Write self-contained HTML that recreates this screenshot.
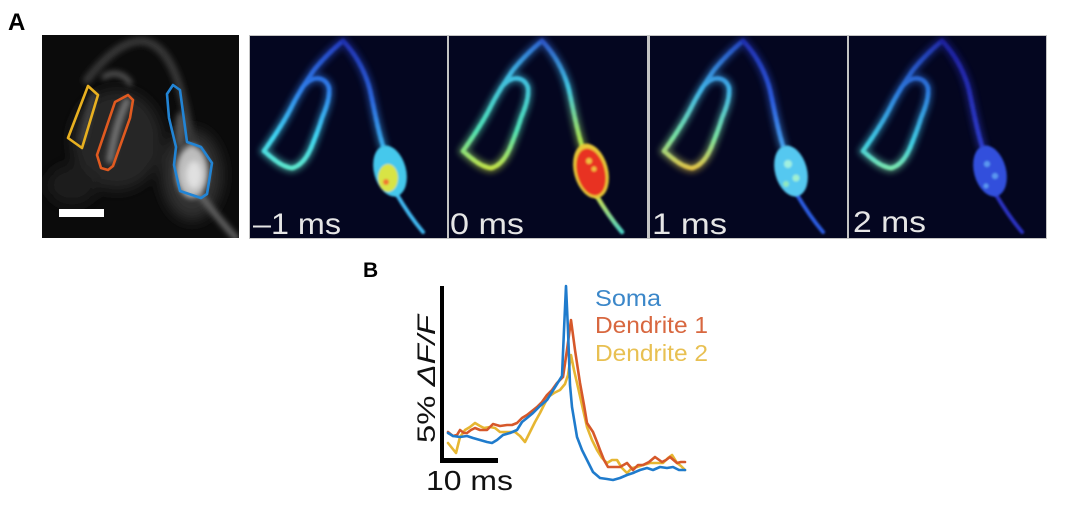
<!DOCTYPE html>
<html><head><meta charset="utf-8"><style>
html,body{margin:0;padding:0;background:#fff;}
svg{display:block;}
</style></head><body>
<svg width="1069" height="517" viewBox="0 0 1069 517" xmlns="http://www.w3.org/2000/svg" font-family="Liberation Sans, Arial, sans-serif">
<defs>
<filter id="b1" x="-20%" y="-20%" width="140%" height="140%"><feGaussianBlur stdDeviation="1.1"/></filter>
<filter id="b3" x="-50%" y="-50%" width="200%" height="200%"><feGaussianBlur stdDeviation="3"/></filter>
<filter id="b6" x="-50%" y="-50%" width="200%" height="200%"><feGaussianBlur stdDeviation="7"/></filter>
<linearGradient id="gL1" gradientUnits="userSpaceOnUse" x1="0" y1="0" x2="0" y2="135"><stop offset="0" stop-color="#2234b8"/><stop offset="0.4" stop-color="#2f80ea"/><stop offset="0.75" stop-color="#40d4f0"/><stop offset="1" stop-color="#60e8c8"/></linearGradient>
<linearGradient id="gR1" gradientUnits="userSpaceOnUse" x1="0" y1="0" x2="0" y2="130"><stop offset="0" stop-color="#1e2aa8"/><stop offset="0.5" stop-color="#2c68dc"/><stop offset="1" stop-color="#40ccf0"/></linearGradient>
<linearGradient id="gL2" gradientUnits="userSpaceOnUse" x1="0" y1="0" x2="0" y2="135"><stop offset="0" stop-color="#2a58cc"/><stop offset="0.3" stop-color="#40bce0"/><stop offset="0.7" stop-color="#50e0b4"/><stop offset="1" stop-color="#c8e040"/></linearGradient>
<linearGradient id="gR2" gradientUnits="userSpaceOnUse" x1="0" y1="0" x2="0" y2="130"><stop offset="0" stop-color="#2a48c0"/><stop offset="0.4" stop-color="#40c4e0"/><stop offset="0.8" stop-color="#a8e050"/><stop offset="1" stop-color="#e8e040"/></linearGradient>
<linearGradient id="gL3" gradientUnits="userSpaceOnUse" x1="0" y1="0" x2="0" y2="135"><stop offset="0" stop-color="#2038b8"/><stop offset="0.4" stop-color="#40b4e8"/><stop offset="0.75" stop-color="#78e0a0"/><stop offset="1" stop-color="#e8c040"/></linearGradient>
<linearGradient id="gR3" gradientUnits="userSpaceOnUse" x1="0" y1="0" x2="0" y2="130"><stop offset="0" stop-color="#1e2aa8"/><stop offset="0.5" stop-color="#2c5cdc"/><stop offset="1" stop-color="#50bcf0"/></linearGradient>
<linearGradient id="gL4" gradientUnits="userSpaceOnUse" x1="0" y1="0" x2="0" y2="135"><stop offset="0" stop-color="#1e24a0"/><stop offset="0.4" stop-color="#2c78dc"/><stop offset="0.8" stop-color="#40cce0"/><stop offset="1" stop-color="#80e8a8"/></linearGradient>
<linearGradient id="gR4" gradientUnits="userSpaceOnUse" x1="0" y1="0" x2="0" y2="130"><stop offset="0" stop-color="#1c1e98"/><stop offset="1" stop-color="#3040d0"/></linearGradient>
<linearGradient id="gT2" gradientUnits="userSpaceOnUse" x1="0" y1="155" x2="0" y2="200"><stop offset="0" stop-color="#e0e040"/><stop offset="1" stop-color="#40d0d0"/></linearGradient>
</defs>

<rect width="1069" height="517" fill="#fff"/>

<!-- Labels -->
<text x="8" y="30" font-size="24" font-weight="bold" fill="#000">A</text>
<text x="363" y="277" font-size="21" font-weight="bold" fill="#000">B</text>

<!-- Grey panel -->
<svg x="42" y="35" width="197" height="203" viewBox="0 0 197 203">
<rect width="197" height="203" fill="#0b0b0b"/>
<g filter="url(#b6)">
<ellipse cx="75" cy="105" rx="45" ry="50" fill="#262626"/>
<ellipse cx="30" cy="150" rx="25" ry="20" fill="#1e1e1e"/>
<ellipse cx="150" cy="140" rx="30" ry="45" fill="#333"/>
</g>
<g filter="url(#b3)" fill="none" stroke-linecap="round">
<path d="M45,45 C60,25 80,6 100,6 C120,8 132,30 140,60 C146,82 148,100 150,115" stroke="#383838" stroke-width="8"/>
<path d="M62,42 C70,36 82,38 88,48" stroke="#5a5a5a" stroke-width="5"/>
<path d="M68,125 C72,100 78,80 85,66" stroke="#777" stroke-width="7"/>
<path d="M40,105 C45,85 48,70 52,60" stroke="#444" stroke-width="6"/>
<path d="M160,162 C172,178 182,190 194,203" stroke="#6a6a6a" stroke-width="6"/>
<ellipse cx="150" cy="137" rx="16" ry="26" fill="#bdbdbd"/>
<ellipse cx="138" cy="95" rx="5" ry="18" fill="#555"/>
</g>
<ellipse cx="152" cy="140" rx="8" ry="14" fill="#e0e0e0" filter="url(#b3)"/>
<g fill="none" stroke-width="2.6" stroke-linejoin="round">
<polygon points="26,103 46,51 56,60 40,113" stroke="#e8b020"/>
<polygon points="55,120 73,67 86,60 91,65 88,83 71,131 66,135 59,133" stroke="#e05a20"/>
<polygon points="125,59 131,50 138,55 145,107 159,112 170,128 165,159 159,163 138,156 132,130 134,112 127,83" stroke="#2284d4"/>
</g>
<rect x="17" y="174" width="45" height="8" fill="#fff"/>
</svg>

<!-- colour panel strip background -->
<rect x="249" y="35" width="798" height="204" fill="#c4c4c4"/>

<!-- Panel -1 ms -->
<svg x="250" y="36" width="197" height="202" viewBox="0 0 197 202">
<rect width="197" height="202" fill="#040620"/>
<g fill="none" stroke-linecap="round" stroke-linejoin="round">
<g filter="url(#b3)" opacity="0.45">
<path d="M93,5 C84,12 72,24 64,34 C56,46 48,58 42,70 C35,84 26,98 14,115 C22,122 32,131 42,132 C51,130 57,121 61,112 C65,102 69,92 72,82 C76,72 80,62 79,52 C77,44 70,41 63,43 C58,45 55,48 52,52" stroke="url(#gL1)" stroke-width="10"/>
<path d="M93,5 C104,16 115,34 120,54 C124,72 127,90 133,110" stroke="url(#gR1)" stroke-width="10"/>
</g>
<g filter="url(#b1)">
<path d="M93,5 C84,12 72,24 64,34 C56,46 48,58 42,70 C35,84 26,98 14,115 C22,122 32,131 42,132 C51,130 57,121 61,112 C65,102 69,92 72,82 C76,72 80,62 79,52 C77,44 70,41 63,43 C58,45 55,48 52,52" stroke="url(#gL1)" stroke-width="4.5" stroke-dasharray="5 2"/>
<path d="M93,5 C104,16 115,34 120,54 C124,72 127,90 133,110" stroke="url(#gR1)" stroke-width="4.5" stroke-dasharray="5 2"/>
<path d="M146,157 C153,169 162,183 173,196" stroke="#40b8f0" stroke-width="4"/>
</g>
</g>
<g filter="url(#b1)">
<ellipse cx="140" cy="135" rx="16" ry="26" transform="rotate(-15 140 135)" fill="#44c8ec"/>
<ellipse cx="138" cy="142" rx="10" ry="14" fill="#d8e444"/>
<circle cx="136" cy="146" r="3" fill="#f07830"/>
</g>
<text x="3" y="198" font-size="30" fill="#e6e6e6" textLength="88" lengthAdjust="spacingAndGlyphs">–1 ms</text>
</svg>

<!-- Panel 0 ms -->
<svg x="449" y="36" width="198" height="202" viewBox="0 0 198 202">
<rect width="198" height="202" fill="#040620"/>
<g fill="none" stroke-linecap="round" stroke-linejoin="round">
<g filter="url(#b3)" opacity="0.45">
<path d="M93,5 C84,12 72,24 64,34 C56,46 48,58 42,70 C35,84 26,98 14,115 C22,122 32,131 42,132 C51,130 57,121 61,112 C65,102 69,92 72,82 C76,72 80,62 79,52 C77,44 70,41 63,43 C58,45 55,48 52,52" stroke="url(#gL2)" stroke-width="10"/>
<path d="M93,5 C104,16 115,34 120,54 C124,72 127,90 133,110" stroke="url(#gR2)" stroke-width="10"/>
</g>
<g filter="url(#b1)">
<path d="M93,5 C84,12 72,24 64,34 C56,46 48,58 42,70 C35,84 26,98 14,115 C22,122 32,131 42,132 C51,130 57,121 61,112 C65,102 69,92 72,82 C76,72 80,62 79,52 C77,44 70,41 63,43 C58,45 55,48 52,52" stroke="url(#gL2)" stroke-width="4.5" stroke-dasharray="5 2"/>
<path d="M93,5 C104,16 115,34 120,54 C124,72 127,90 133,110" stroke="url(#gR2)" stroke-width="4.5" stroke-dasharray="5 2"/>
<path d="M146,157 C153,169 162,183 173,196" stroke="url(#gT2)" stroke-width="4.5"/>
</g>
</g>
<g filter="url(#b1)">
<ellipse cx="142" cy="135" rx="17" ry="28" transform="rotate(-15 142 135)" fill="#e8c838"/>
<ellipse cx="142" cy="136" rx="14" ry="24" transform="rotate(-15 142 136)" fill="#e83222"/>
<circle cx="140" cy="125" r="3" fill="#f0c040"/>
<circle cx="145" cy="133" r="2.5" fill="#f0c040"/>
</g>
<text x="1" y="198" font-size="30" fill="#e6e6e6" textLength="74" lengthAdjust="spacingAndGlyphs">0 ms</text>
</svg>

<!-- Panel 1 ms -->
<svg x="650" y="36" width="197" height="202" viewBox="0 0 197 202">
<rect width="197" height="202" fill="#040620"/>
<g fill="none" stroke-linecap="round" stroke-linejoin="round">
<g filter="url(#b3)" opacity="0.45">
<path d="M93,5 C84,12 72,24 64,34 C56,46 48,58 42,70 C35,84 26,98 14,115 C22,122 32,131 42,132 C51,130 57,121 61,112 C65,102 69,92 72,82 C76,72 80,62 79,52 C77,44 70,41 63,43 C58,45 55,48 52,52" stroke="url(#gL3)" stroke-width="10"/>
<path d="M93,5 C104,16 115,34 120,54 C124,72 127,90 133,110" stroke="url(#gR3)" stroke-width="10"/>
</g>
<g filter="url(#b1)">
<path d="M93,5 C84,12 72,24 64,34 C56,46 48,58 42,70 C35,84 26,98 14,115 C22,122 32,131 42,132 C51,130 57,121 61,112 C65,102 69,92 72,82 C76,72 80,62 79,52 C77,44 70,41 63,43 C58,45 55,48 52,52" stroke="url(#gL3)" stroke-width="4.5" stroke-dasharray="5 2"/>
<path d="M93,5 C104,16 115,34 120,54 C124,72 127,90 133,110" stroke="url(#gR3)" stroke-width="4.5" stroke-dasharray="5 2"/>
<path d="M146,157 C153,169 162,183 173,196" stroke="#2c5ce0" stroke-width="4"/>
</g>
</g>
<g filter="url(#b1)">
<ellipse cx="141" cy="135" rx="16" ry="26" transform="rotate(-15 141 135)" fill="#54c8f0"/>
<circle cx="138" cy="128" r="4" fill="#a0f0e0"/>
<circle cx="146" cy="142" r="3.5" fill="#a0f0d0"/>
<circle cx="136" cy="148" r="3" fill="#90e8c0"/>
</g>
<text x="2" y="198" font-size="30" fill="#e6e6e6" textLength="75" lengthAdjust="spacingAndGlyphs">1 ms</text>
</svg>

<!-- Panel 2 ms -->
<svg x="849" y="36" width="197" height="202" viewBox="0 0 197 202">
<rect width="197" height="202" fill="#040620"/>
<g fill="none" stroke-linecap="round" stroke-linejoin="round">
<g filter="url(#b3)" opacity="0.45">
<path d="M93,5 C84,12 72,24 64,34 C56,46 48,58 42,70 C35,84 26,98 14,115 C22,122 32,131 42,132 C51,130 57,121 61,112 C65,102 69,92 72,82 C76,72 80,62 79,52 C77,44 70,41 63,43 C58,45 55,48 52,52" stroke="url(#gL4)" stroke-width="10"/>
<path d="M93,5 C104,16 115,34 120,54 C124,72 127,90 133,110" stroke="url(#gR4)" stroke-width="10"/>
</g>
<g filter="url(#b1)">
<path d="M93,5 C84,12 72,24 64,34 C56,46 48,58 42,70 C35,84 26,98 14,115 C22,122 32,131 42,132 C51,130 57,121 61,112 C65,102 69,92 72,82 C76,72 80,62 79,52 C77,44 70,41 63,43 C58,45 55,48 52,52" stroke="url(#gL4)" stroke-width="4.5" stroke-dasharray="5 2"/>
<path d="M93,5 C104,16 115,34 120,54 C124,72 127,90 133,110" stroke="url(#gR4)" stroke-width="4.5" stroke-dasharray="5 2"/>
<path d="M146,157 C153,169 162,183 173,196" stroke="#2a30c0" stroke-width="4"/>
</g>
</g>
<g filter="url(#b1)">
<ellipse cx="141" cy="135" rx="16" ry="26" transform="rotate(-15 141 135)" fill="#3050dc"/>
<circle cx="138" cy="128" r="3" fill="#5c98f0"/>
<circle cx="146" cy="140" r="3" fill="#5c98f0"/>
<circle cx="137" cy="150" r="2.5" fill="#5c98f0"/>
</g>
<text x="4" y="196" font-size="30" fill="#e6e6e6" textLength="73" lengthAdjust="spacingAndGlyphs">2 ms</text>
</svg>

<!-- Panel B -->
<rect x="440" y="286" width="4" height="177" fill="#000"/>
<rect x="440" y="458" width="58" height="5" fill="#000"/>
<text transform="translate(435,443) rotate(-90)" font-size="25" fill="#111" textLength="128" lengthAdjust="spacingAndGlyphs">5% <tspan font-style="italic">ΔF/F</tspan></text>
<text x="426" y="490" font-size="28" fill="#111" textLength="87" lengthAdjust="spacingAndGlyphs">10 ms</text>

<g fill="none" stroke-width="2.6" stroke-linejoin="round" stroke-linecap="round">
<polyline stroke="#e6b632" points="448,443 452,448 456,453 460,437 465,430 470,427 475,423 480,426 484,428 490,427 495,428 500,432 507,432 515,432 520,436 525,442 530,432 535,422 540,413 544,405 548,397 554,393 560,390 565,384 568,375 571,355 574,370 577,383 582,405 587,427 592,440 597,450 602,458 607,463 612,460 617,460 622,468 627,473 632,468 637,467 643,465 650,463 657,463 663,463 668,458 672,455 677,463 681,466 685,470"/>
<polyline stroke="#d6582a" points="448,432 453,436 457,435 460,430 464,433 467,433 471,430 475,428 480,430 487,430 493,424 500,426 507,425 512,425 517,423 522,418 527,415 532,411 537,407 542,402 547,395 552,390 557,383 563,377 567,350 571,320 575,350 580,383 584,405 587,423 593,432 597,442 600,450 604,460 608,467 614,467 620,467 627,463 633,470 638,465 643,465 649,462 655,457 662,462 666,460 670,457 677,463 681,462 685,462"/>
<polyline stroke="#1f7bcc" points="448,433 453,436 460,437 467,436 473,438 480,440 487,442 492,443 497,440 503,435 510,433 517,430 522,422 527,418 533,413 540,406 547,400 552,392 557,384 562,376 564,330 566,286 568,330 570,385 572,407 577,437 582,450 587,460 593,472 600,478 607,479 613,480 620,478 627,475 633,473 640,470 647,468 653,470 660,467 667,468 673,467 679,470 685,470"/>
</g>

<text x="595" y="306" font-size="23" fill="#3b87c9" textLength="66" lengthAdjust="spacingAndGlyphs">Soma</text>
<text x="595" y="333" font-size="23" fill="#d8673f" textLength="113" lengthAdjust="spacingAndGlyphs">Dendrite 1</text>
<text x="595" y="361" font-size="23" fill="#e8c052" textLength="113" lengthAdjust="spacingAndGlyphs">Dendrite 2</text>
</svg>
</body></html>
